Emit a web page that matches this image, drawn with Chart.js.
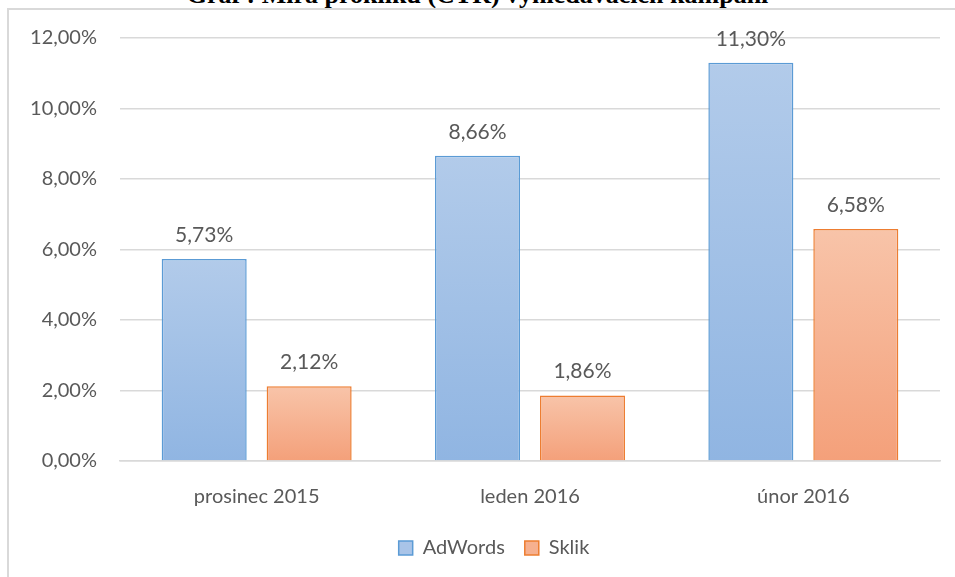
<!DOCTYPE html>
<html>
<head>
<meta charset="utf-8">
<script src="https://cdn.jsdelivr.net/npm/chart.js@4/dist/chart.umd.min.js"></script>
<style>
  body { margin: 0; background: #fff; overflow: hidden; }
  #wrap { position: relative; width: 955px; height: 577px; }
  #frame { position: absolute; left: 7px; top: 8px; width: 960px; height: 600px;
           border-left: 2px solid #d9d9d9; border-top: 2px solid #d9d9d9; }
  #title { position: absolute; left: 0; width: 955px; top: -20px; text-align: center;
           font: bold 26px "Liberation Serif", serif; color: #000; white-space: nowrap; }
  canvas { position: absolute; left: 0; top: 0; }
</style>
</head>
<body>
<div id="wrap">
  <div id="title">Graf : Míra prokliku (CTR) vyhledávacích kampaní</div>
  <div id="frame"></div>
  <canvas id="myChart" width="955" height="577"></canvas>
</div>
<script>
var categories = ["prosinec 2015", "leden 2016", "únor 2016"];
var adwords = [5.73, 8.66, 11.30];
var sklik = [2.12, 1.86, 6.58];
var seriesNames = ["AdWords", "Sklik"];

var font = "Lato, 'Open Sans', sans-serif";
var grey = "#595959";

function fmt(v, dec) {
    return v.toFixed(dec).replace(".", ",") + "%";
}

// gradient per bar, from its top down to the zero line
function barFill(top, bottom) {
    return function (context) {
        var chart = context.chart;
        var y = chart.scales.y;
        if (!y || context.dataIndex === undefined) return bottom;
        var v = context.raw;
        var g = chart.ctx.createLinearGradient(0, y.getPixelForValue(v), 0, y.getPixelForValue(0));
        g.addColorStop(0, top);
        g.addColorStop(1, bottom);
        return g;
    };
}

var labelsPlugin = {
    id: "valueLabels",
    afterLayout: function (chart) {
        // legend sits a bit right of the canvas centre in the original, and higher
        chart.legend.left += 14;
        chart.legend.right += 14;
        chart.legend.top -= 15;
        chart.legend.bottom -= 15;
    },
    afterDatasetsDraw: function (chart) {
        var ctx = chart.ctx;
        ctx.save();
        ctx.fillStyle = grey;
        ctx.font = "21px " + font;
        ctx.textAlign = "center";
        ctx.textBaseline = "alphabetic";
        chart.data.datasets.forEach(function (ds, i) {
            chart.getDatasetMeta(i).data.forEach(function (bar, j) {
                ctx.fillText(fmt(ds.data[j], 2), bar.x, bar.y - 17);
            });
        });
        ctx.restore();
    }
};

var solid = [["#a9c4e8", "#5b9bd5"], ["#f6b08f", "#ed7d31"]];

var chart = new Chart(document.getElementById("myChart").getContext("2d"), {
    type: "bar",
    data: {
        labels: categories,
        datasets: [{
            label: seriesNames[0],
            data: adwords,
            backgroundColor: barFill("#b2cbea", "#90b5e2"),
            borderColor: "#5b9bd5",
            borderWidth: 1.5
        }, {
            label: seriesNames[1],
            data: sklik,
            backgroundColor: barFill("#f8c4a9", "#f4a07a"),
            borderColor: "#ed7d31",
            borderWidth: 1.5
        }]
    },
    options: {
        responsive: false,
        animation: false,
        layout: { padding: { left: 20, right: 15, top: 38, bottom: -6 } },
        datasets: { bar: { barPercentage: 0.81, categoryPercentage: 0.768 } },
        scales: {
            x: {
                grid: { display: false, drawTicks: false },
                border: { color: "#d9d9d9", width: 1.5 },
                ticks: { color: grey, font: { family: font, size: 20 }, padding: 24 }
            },
            y: {
                min: 0,
                max: 12,
                afterFit: function (scale) { scale.width = 100; },
                grid: { color: "#d9d9d9", lineWidth: 1.5, drawTicks: false },
                border: { display: false },
                ticks: {
                    stepSize: 2,
                    padding: 23,
                    color: grey,
                    font: { family: font, size: 20 },
                    callback: function (v) { return fmt(v, 2); }
                }
            }
        },
        plugins: {
            tooltip: { enabled: false },
            legend: {
                position: "bottom",
                labels: {
                    color: grey,
                    font: { family: font, size: 20 },
                    boxWidth: 14,
                    boxHeight: 14,
                    padding: 20,
                    generateLabels: function (chart) {
                        return chart.data.datasets.map(function (ds, i) {
                            return {
                                text: ds.label,
                                fillStyle: solid[i][0],
                                strokeStyle: solid[i][1],
                                lineWidth: 1.5,
                                fontColor: grey,
                                datasetIndex: i
                            };
                        });
                    }
                }
            }
        }
    },
    plugins: [labelsPlugin]
});
</script>
</body>
</html>
